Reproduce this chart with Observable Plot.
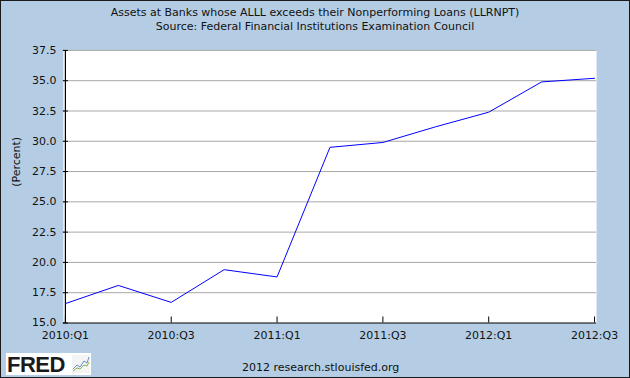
<!DOCTYPE html>
<html>
<head>
<meta charset="utf-8">
<script src="https://cdn.jsdelivr.net/npm/d3@7"></script>
<script src="https://cdn.jsdelivr.net/npm/@observablehq/plot@0.6"></script>
<style>
  html, body { margin: 0; padding: 0; background: #fff; }
  #wrap { position: relative; width: 630px; height: 378px; box-sizing: border-box; border: 1px solid #1a1a1a; background: #b4cde4; overflow: hidden; font-family: "DejaVu Sans", sans-serif; }
  #chart { position: absolute; left: -1px; top: -1px; }
  .title { position: absolute; left: 0; width: 628px; text-align: center; font-size: 11px; color: #111; line-height: 13px; }
  #footer { position: absolute; left: 241px; top: 360px; font-size: 11px; color: #111; line-height: 13px; }
  #logo { position: absolute; left: 5px; top: 352px; width: 85px; height: 22px; background: #fff; }
  #logo span { position: absolute; left: 1px; top: -1px; font-family: "Liberation Sans", "DejaVu Sans", sans-serif; font-weight: 900; font-size: 22px; letter-spacing: -0.5px; color: #1a1a1a; }
  #logo svg { position: absolute; left: 66px; top: 2px; }
</style>
</head>
<body>
<div id="wrap">
  <div class="title" style="top:5px">Assets at Banks whose ALLL exceeds their Nonperforming Loans (LLRNPT)</div>
  <div class="title" style="top:19px">Source: Federal Financial Institutions Examination Council</div>
  <div id="chart"></div>
  <div id="logo"><span>FRED</span>
    <svg width="18" height="18" viewBox="0 0 18 18">
      <rect x="0" y="0" width="18" height="18" fill="#f4f4f4"/>
      <polyline points="1,14 5,10 8,12 12,6 15,8 17,2" fill="none" stroke="#6a8fc0" stroke-width="1"/>
      <polyline points="1,16 5,13 8,14 12,10 15,11 17,7" fill="none" stroke="#8ab05a" stroke-width="1"/>
    </svg>
  </div>
  <div id="footer">2012 research.stlouisfed.org</div>
</div>
<script>
const quarters = ["2010:Q1","2010:Q2","2010:Q3","2010:Q4","2011:Q1","2011:Q2","2011:Q3","2011:Q4","2012:Q1","2012:Q2","2012:Q3"];
const values = [16.6, 18.1, 16.7, 19.4, 18.8, 29.5, 29.9, 31.2, 32.4, 34.9, 35.2];
const xTickLabels = ["2010:Q1","2010:Q3","2011:Q1","2011:Q3","2012:Q1","2012:Q3"];
const yTicks = [15, 17.5, 20, 22.5, 25, 27.5, 30, 32.5, 35, 37.5];

const data = quarters.map((q, i) => ({q, v: values[i]}));

const chart = Plot.plot({
  width: 630,
  height: 378,
  marginTop: 50,
  marginBottom: 55,
  marginLeft: 63,
  marginRight: 33,
  style: {background: "transparent", fontFamily: "DejaVu Sans, sans-serif", fontSize: "11px", color: "#111"},
  x: {type: "point", domain: quarters, padding: 0, label: null},
  y: {domain: [15, 37.5], label: null},
  marks: [
    Plot.frame({fill: "white", stroke: null}),
    Plot.gridY(yTicks.slice(1), {stroke: "#a8a8a8", strokeOpacity: 1}),
    Plot.axisY(yTicks, {tickSize: 5, dx: 5, text: null, label: null, stroke: "#000"}),
    Plot.axisY(yTicks, {tickSize: 0, tickPadding: 7, tickFormat: d => d.toFixed(1), label: null, fill: "#111"}),
    Plot.axisX(xTickLabels, {tickSize: 6, dy: -6, text: null, label: null, stroke: "#000"}),
    Plot.axisX(xTickLabels, {tickSize: 0, tickPadding: 8, label: null, fill: "#111"}),
    Plot.ruleY([15], {stroke: "#000", strokeWidth: 1.2}),
    Plot.ruleX([quarters[0]], {stroke: "#000", strokeWidth: 1.2}),
    Plot.line(data, {x: "q", y: "v", stroke: "#0000ff", strokeWidth: 1}),
    Plot.text(["(Percent)"], {frameAnchor: "left", dx: -47, rotate: -90, fill: "#111", fontSize: 11})
  ]
});
document.getElementById("chart").appendChild(chart);
</script>
</body>
</html>
